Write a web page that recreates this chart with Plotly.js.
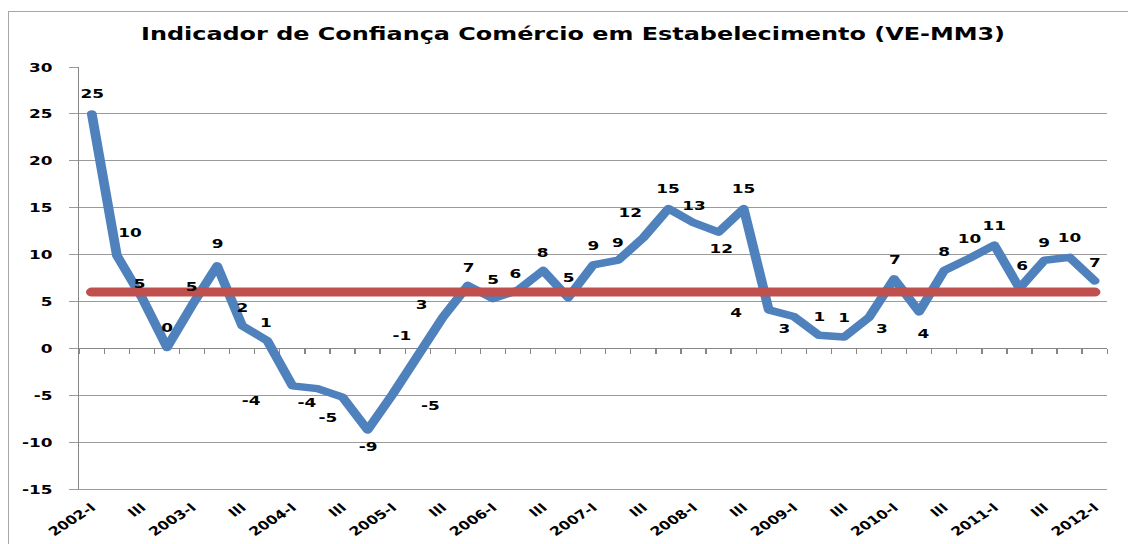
<!DOCTYPE html>
<html>
<head>
<meta charset="utf-8">
<script src="https://cdn.plot.ly/plotly-3.0.1.min.js"></script>
<style>
html,body{margin:0;padding:0;width:1128px;height:544px;overflow:hidden;background:#fff}
#chart{position:absolute;left:0;top:0;width:868px;height:544px;transform:scaleX(1.29954);transform-origin:0 0}
#frame{position:absolute;left:8px;top:11px;width:1300px;height:700px;border:1px solid #a6a6a6;pointer-events:none}
.js-line{stroke-linecap:round !important;stroke-linejoin:round !important}
</style>
</head>
<body>
<div id="chart"></div>
<div id="frame"></div>
<script>
// ---- data ----
const quarters = [
  "2002-I","2002-II","2002-III","2002-IV",
  "2003-I","2003-II","2003-III","2003-IV",
  "2004-I","2004-II","2004-III","2004-IV",
  "2005-I","2005-II","2005-III","2005-IV",
  "2006-I","2006-II","2006-III","2006-IV",
  "2007-I","2007-II","2007-III","2007-IV",
  "2008-I","2008-II","2008-III","2008-IV",
  "2009-I","2009-II","2009-III","2009-IV",
  "2010-I","2010-II","2010-III","2010-IV",
  "2011-I","2011-II","2011-III","2011-IV",
  "2012-I"
];
const tickLabels = [
  "2002-I","III","2003-I","III","2004-I","III","2005-I","III","2006-I","III",
  "2007-I","III","2008-I","III","2009-I","III","2010-I","III","2011-I","III","2012-I"
];
const indicador = [
  25, 9.9, 5.4, 0.1, 4.6, 8.8, 2.4, 0.8, -4.0, -4.3,
  -5.2, -8.7, -4.9, -1.0, 3.3, 6.7, 5.3, 6.2, 8.3, 5.4,
  8.9, 9.4, 11.8, 14.9, 13.4, 12.4, 14.9, 4.1, 3.4, 1.4,
  1.2, 3.3, 7.4, 3.9, 8.3, 9.6, 11.0, 6.4, 9.4, 9.7,
  7.2
];
const valueLabels = [
  "25","10","5","0","5","9","2","1","-4","-4",
  "-5","-9","-5","-1","3","7","5","6","8","5",
  "9","9","12","15","13","12","15","4","3","1",
  "1","3","7","4","8","10","11","6","9","10",
  "7"
];
const media = 6;
const yTickVals = [-15, -10, -5, 0, 5, 10, 15, 20, 25, 30];
const yTickLabels = ["-15","-10","-5","0","5","10","15","20","25","30"];
const yRange = [-15, 30];

// ---- label offsets (visual px) ----
const labelDx = [0,13,-2,0,0,0,0,-2,-41,-11,-15,0,37,-16,-21,0,0,-3,0,0,0,0,-13,0,0,3,0,-32,-10,0,0,13,0,4,0,0,0,3,0,0,0];
const labelDy = [-20,-23,-14,-20,-19,-22,-18,-18,15,14,20,17,11,-22,-13,-18,-19,-17,-18,-20,-19,-18,-25,-20,-17,16,-20,3,12,-19,-20,11,-19,22,-19,-20,-20,-23,-18,-20,-18];

const S = 1128 / 868;
const FONT = 'DejaVu Sans';
const xIdx = quarters.map((q, i) => i);
const tickIdx = xIdx.filter(i => i % 2 === 0);
const bounds = xIdx.map(i => i - 0.5).concat([xIdx.length - 0.5]);
const xRange = [-0.5, xIdx.length - 0.5];

const traces = [
  {x: xIdx, y: indicador, type: 'scatter', mode: 'lines',
   line: {color: '#4F81BD', width: 7.5}, xaxis: 'x', yaxis: 'y', hoverinfo: 'skip'},
  {x: [xIdx[0], xIdx[xIdx.length - 1]], y: [media, media], type: 'scatter', mode: 'lines',
   line: {color: '#C0504D', width: 9}, xaxis: 'x2', yaxis: 'y', hoverinfo: 'skip'}
];

const annotations = xIdx.map(i => ({
  x: i, y: indicador[i], xref: 'x', yref: 'y', text: valueLabels[i], showarrow: false,
  xanchor: 'center', yanchor: 'middle',
  xshift: labelDx[i] / S, yshift: -labelDy[i],
  font: {family: FONT, size: 13, weight: 'bold', color: '#000'}
}));

const layout = {
  width: 868, height: 544,
  margin: {l: 61, r: 16, t: 67, b: 55},
  paper_bgcolor: '#fff', plot_bgcolor: '#fff',
  showlegend: false,
  title: {
    text: 'Indicador de Confiança Comércio em Estabelecimento (VE-MM3)',
    font: {family: FONT, size: 18.4, weight: 'bold', color: '#000'},
    xref: 'container', x: 0.508, xanchor: 'center',
    yref: 'container', y: 1 - 34 / 544, yanchor: 'middle'
  },
  xaxis: {
    range: xRange, tickmode: 'array', tickvals: tickIdx, ticktext: tickLabels,
    tickangle: -40, showgrid: false, zeroline: false, showline: true, linecolor: '#9a9a9a',
    ticks: '', ticklabelstandoff: 6,
    tickfont: {family: FONT, size: 12, weight: 'bold', color: '#000'}
  },
  xaxis2: {
    overlaying: 'x', anchor: 'free',
    position: (0 - yRange[0]) / (yRange[1] - yRange[0]),
    range: xRange, tickmode: 'array', tickvals: bounds,
    ticks: 'outside', ticklen: 5, tickcolor: '#868686', tickwidth: 1,
    showticklabels: false, showline: true, linecolor: '#868686', linewidth: 1,
    showgrid: false, zeroline: false, layer: 'below traces'
  },
  yaxis: {
    range: yRange, tickmode: 'array', tickvals: yTickVals, ticktext: yTickLabels,
    showgrid: true, gridcolor: '#9a9a9a', gridwidth: 1, zeroline: false,
    showline: true, linecolor: '#868686', linewidth: 1,
    ticks: 'outside', ticklen: 7, tickcolor: '#9a9a9a', ticklabelstandoff: 10,
    tickfont: {family: FONT, size: 13, weight: 'bold', color: '#000'}
  },
  annotations: annotations
};

Plotly.newPlot('chart', traces, layout, {staticPlot: true, displayModeBar: false});
</script>
</body>
</html>
